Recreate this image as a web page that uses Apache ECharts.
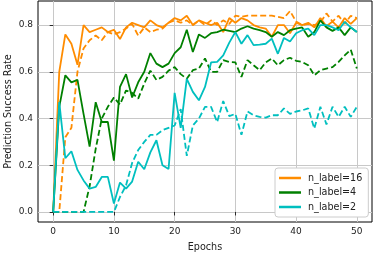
<!DOCTYPE html>
<html>
<head>
<meta charset="utf-8">
<script src="https://cdn.jsdelivr.net/npm/echarts@6/dist/echarts.min.js"></script>
<style>html,body{margin:0;padding:0;background:#fff}#c{width:374px;height:254px}</style>
</head>
<body>
<div id="c"></div>
<script>
const epochs = Array.from({length: 51}, (_, i) => i);
const xTicks = [0, 10, 20, 30, 40, 50];
const yTicks = [0, 0.2, 0.4, 0.6, 0.8];
const legendNames = ['n_label=16', 'n_label=4', 'n_label=2'];

const orangeSolid = [0.0,0.60,0.76,0.72,0.63,0.80,0.77,0.78,0.79,0.77,0.78,0.74,0.79,0.81,0.80,0.79,0.82,0.80,0.79,0.81,0.83,0.82,0.84,0.80,0.82,0.81,0.80,0.81,0.77,0.83,0.81,0.83,0.82,0.80,0.79,0.785,0.75,0.80,0.80,0.765,0.81,0.80,0.81,0.79,0.83,0.795,0.815,0.79,0.83,0.805,0.83];
const orangeDashed = [0.0,0.0,0.32,0.36,0.60,0.70,0.735,0.755,0.735,0.77,0.76,0.77,0.785,0.805,0.755,0.79,0.77,0.78,0.785,0.81,0.82,0.81,0.82,0.80,0.82,0.80,0.82,0.80,0.82,0.805,0.84,0.835,0.84,0.84,0.84,0.84,0.84,0.835,0.83,0.86,0.815,0.80,0.805,0.80,0.81,0.85,0.815,0.84,0.805,0.84,0.83];
const greenSolid = [0.0,0.45,0.585,0.555,0.565,0.42,0.28,0.47,0.385,0.385,0.22,0.535,0.59,0.49,0.555,0.60,0.68,0.635,0.62,0.635,0.68,0.705,0.78,0.685,0.76,0.745,0.765,0.77,0.78,0.775,0.77,0.785,0.795,0.785,0.778,0.77,0.75,0.77,0.757,0.778,0.785,0.79,0.75,0.77,0.82,0.79,0.775,0.79,0.757,0.79,0.77];
const greenDashed = [0.0,0.0,0.0,0.0,0.0,0.0,0.11,0.27,0.40,0.45,0.49,0.46,0.52,0.51,0.485,0.55,0.605,0.565,0.578,0.605,0.62,0.59,0.57,0.607,0.614,0.657,0.60,0.60,0.65,0.642,0.64,0.578,0.65,0.628,0.607,0.64,0.657,0.628,0.65,0.66,0.647,0.642,0.628,0.585,0.607,0.614,0.62,0.642,0.67,0.695,0.614];
const cyanSolid = [0.0,0.47,0.23,0.26,0.18,0.135,0.10,0.107,0.15,0.15,0.036,0.126,0.10,0.13,0.215,0.183,0.255,0.307,0.20,0.184,0.51,0.36,0.57,0.514,0.478,0.535,0.64,0.642,0.67,0.725,0.77,0.72,0.757,0.714,0.716,0.72,0.742,0.677,0.745,0.73,0.765,0.778,0.785,0.757,0.80,0.80,0.79,0.778,0.814,0.79,0.77];
const cyanDashed = [0.0,0.0,0.0,0.0,0.0,0.0,0.0,0.0,0.0,0.0,0.0,0.064,0.114,0.21,0.265,0.30,0.33,0.33,0.35,0.36,0.37,0.44,0.24,0.37,0.40,0.45,0.45,0.385,0.475,0.41,0.42,0.33,0.43,0.414,0.407,0.404,0.414,0.414,0.443,0.42,0.43,0.435,0.443,0.357,0.45,0.375,0.45,0.407,0.45,0.407,0.45];

const ORANGE = '#ff8c00', GREEN = '#008000', CYAN = '#00bfbf';
const FONT = 'DejaVu Sans';

function pairs(vals) { return epochs.map((e, i) => [e, vals[i]]); }
function line(name, vals, color, dashed) {
  return {
    name: name, type: 'line', data: pairs(vals), symbol: 'none', smooth: false,
    lineStyle: {color: color, width: 1.8, type: dashed ? [6, 3] : 'solid', cap: 'butt'},
    itemStyle: {color: color}, emphasis: {disabled: true}, animation: false
  };
}

const chart = echarts.init(document.getElementById('c'), null, {renderer: 'canvas'});
chart.setOption({
  animation: false,
  backgroundColor: '#fff',
  grid: {left: 38, right: 2, top: 1, bottom: 32, containLabel: false, outerBoundsMode: 'none',
         show: true, borderColor: '#000', borderWidth: 1, backgroundColor: 'transparent'},
  xAxis: {
    type: 'value', min: -2.5, max: 52.5,
    name: 'Epochs', nameLocation: 'middle', nameGap: 20, nameMoveOverlap: false,
    nameTextStyle: {fontFamily: FONT, fontSize: 9.6, color: '#222'},
    axisLine: {show: false},
    axisTick: {show: true, length: 3.5, lineStyle: {color: '#000', width: 0.8}, customValues: xTicks},
    axisLabel: {fontFamily: FONT, fontSize: 9, color: '#222', margin: 5, customValues: xTicks, formatter: v => String(v)},
    splitLine: {show: true, lineStyle: {color: '#c8c8c8', width: 1}}
  },
  yAxis: {
    type: 'value', min: -0.043, max: 0.903,
    name: 'Prediction Success Rate', nameLocation: 'middle', nameGap: 25, nameRotate: 90, nameMoveOverlap: false,
    nameTextStyle: {fontFamily: FONT, fontSize: 9.6, color: '#222'},
    axisLine: {show: false},
    axisTick: {show: true, length: 3.5, lineStyle: {color: '#000', width: 0.8}, customValues: yTicks},
    axisLabel: {fontFamily: FONT, fontSize: 9, color: '#222', margin: 5, customValues: yTicks, formatter: v => v.toFixed(1)},
    splitLine: {show: true, lineStyle: {color: '#c8c8c8', width: 1}}
  },
  legend: {
    data: legendNames.map(n => ({name: n, icon: 'rect'})),
    orient: 'vertical', left: 275, top: 168,
    itemWidth: 22, itemHeight: 2.5, itemGap: 4.5,
    padding: [5, 6, 5, 4],
    backgroundColor: '#fff', borderColor: '#cccccc', borderWidth: 1, borderRadius: 3,
    textStyle: {fontFamily: FONT, fontSize: 9.6, color: '#222', padding: [0, 0, 0, 2]},
    selectedMode: false
  },
  series: [
    line('n_label=16', orangeSolid, ORANGE, false),
    line('n_label=16 (dashed)', orangeDashed, ORANGE, true),
    line('n_label=4', greenSolid, GREEN, false),
    line('n_label=4 (dashed)', greenDashed, GREEN, true),
    line('n_label=2', cyanSolid, CYAN, false),
    line('n_label=2 (dashed)', cyanDashed, CYAN, true)
  ]
});
</script>
</body>
</html>
